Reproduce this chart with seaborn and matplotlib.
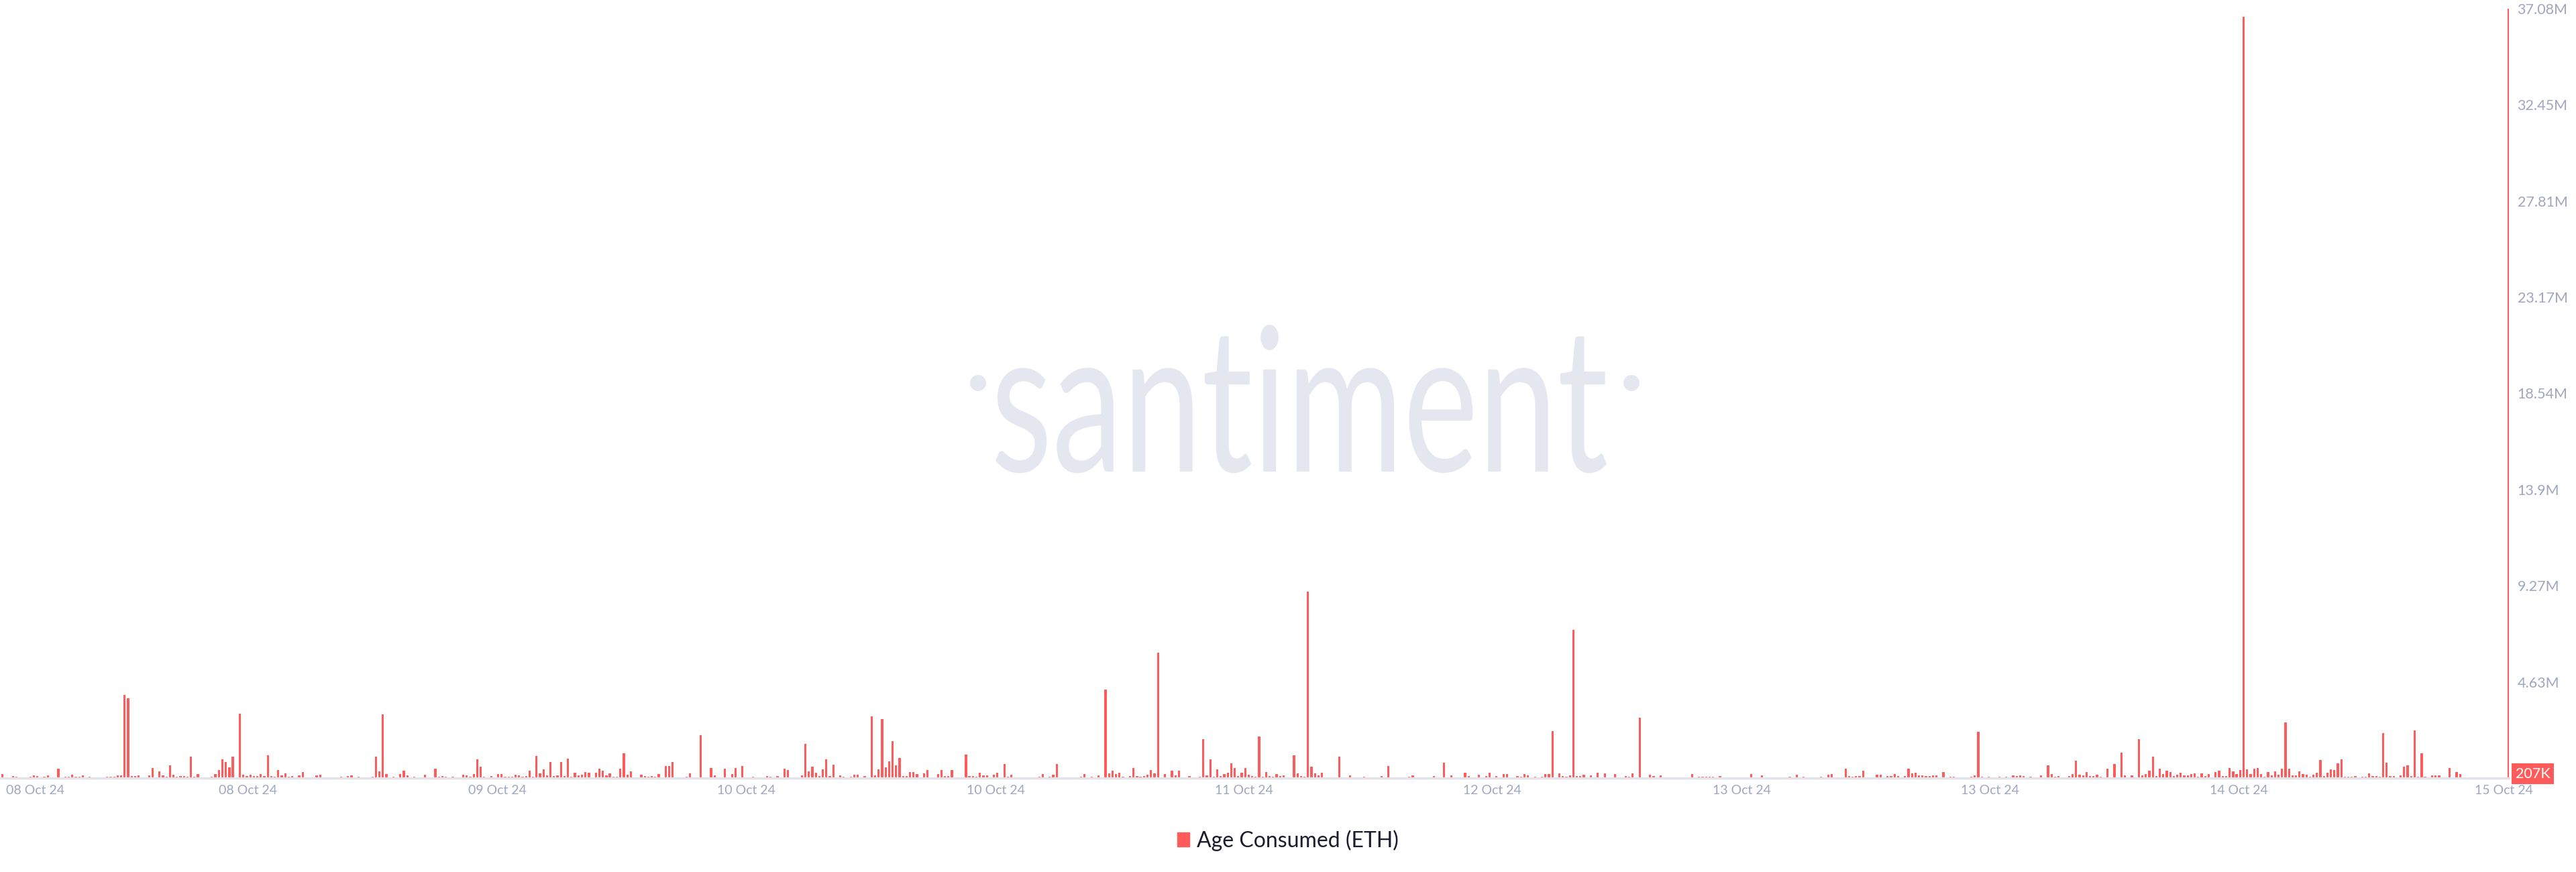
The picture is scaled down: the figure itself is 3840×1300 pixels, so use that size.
import numpy as np
import pandas as pd
import matplotlib
matplotlib.use("Agg")
from matplotlib import pyplot as plt
from matplotlib.patches import Patch, PathPatch, Circle
from matplotlib.textpath import TextPath
from matplotlib.font_manager import FontProperties
from matplotlib.transforms import Affine2D, IdentityTransform
import seaborn as sns

# Age Consumed (ETH), millions, one value per interval
age_oct08 = [
    0.18, 0, 0, 0.10, 0.05, 0.03, 0, 0.03, 0.05, 0.13, 0.10, 0, 0.05, 0.13, 0.03, 0, 0.44, 0, 0.05, 0.05,
    0.15, 0.05, 0.07, 0.13, 0.02, 0.05, 0.02, 0, 0.04, 0.04, 0.05, 0.05, 0.07, 0.13, 0.13, 4.01, 3.85, 0.09, 0.09, 0.13,
    0.03, 0.03, 0.12, 0.48, 0.04, 0.31, 0.13, 0.07, 0.61, 0.15, 0.07, 0.09, 0.10, 0.07, 1.03, 0.05, 0.19, 0.04, 0.04, 0.04,
    0.05, 0.18, 0.39, 0.89, 0.76, 0.51, 1.05, 0.03, 3.10, 0.15, 0.10, 0.16, 0.09, 0.09, 0.19, 0.09, 1.10, 0.11, 0.07, 0.39,
    0.13, 0.22, 0.05, 0.11, 0.03, 0.13, 0.29, 0.02, 0.01, 0, 0.12, 0.17, 0.01, 0.01, 0.01, 0.02, 0.02, 0.05, 0, 0.11,
    0.14, 0.04, 0.05, 0.03, 0.03, 0.03, 0.05, 1.03, 0.33, 3.06, 0.18, 0, 0.06, 0, 0.19, 0.36, 0.14, 0, 0.06, 0.02,
    0, 0.17, 0, 0, 0.45, 0.05, 0.11, 0.07, 0.03, 0.06, 0.03, 0, 0.17, 0.12, 0.06, 0.21, 0.90, 0.56, 0.07, 0.03,
    0.10, 0.03, 0.18, 0.18, 0.06, 0.05, 0.05, 0.15, 0.13, 0.05, 0.09, 0.34, 0.05, 1.06, 0.24, 0.42, 0.14, 0.77, 0.10, 0.12,
    0.77, 0.10, 0.93, 0.07, 0.25, 0.14, 0.15, 0.29, 0.27, 0.03, 0.27, 0.44, 0.36, 0.12, 0.24, 0.07, 0.07, 0.44, 1.21, 0.16,
    0.33, 0.02, 0.02, 0.15, 0.10, 0.07, 0.11, 0.07, 0.19, 0, 0.59, 0.57, 0.78, 0.03, 0.03, 0, 0.07, 0.22, 0.03, 0,
    2.06, 0.03, 0.03, 0.47, 0.13, 0.03, 0, 0.45, 0.03, 0.19, 0.47, 0.03, 0.57, 0.01, 0, 0.05, 0, 0.03, 0, 0.11,
    0.07, 0.03, 0.10, 0, 0.46, 0.39, 0.03, 0.03, 0.03, 0.14, 1.64, 0.33, 0.54, 0.27, 0.11, 0.42, 0.91, 0.09, 0.65, 0.03,
]
age_oct10 = [
    0.12, 0.05, 0, 0.05, 0.17, 0.16, 0.03, 0.10, 0.03, 2.99, 0.13, 0.42, 2.83, 0.52, 0.81, 1.79, 0.62, 0.98, 0.11, 0.11,
    0.28, 0.29, 0.19, 0.03, 0.23, 0.39, 0.03, 0.03, 0.19, 0.39, 0.11, 0.11, 0.39, 0.03, 0.03, 0.03, 1.13, 0.10, 0.10, 0.05,
    0.26, 0.14, 0.13, 0, 0.15, 0.27, 0.03, 0.68, 0.05, 0.16, 0.04, 0.01, 0, 0.04, 0.03, 0.03, 0, 0.05, 0.19, 0,
    0.07, 0.17, 0.68, 0, 0, 0, 0.04, 0.01, 0, 0.05, 0.19, 0, 0.06, 0.03, 0.12, 0.03, 4.27, 0.23, 0.34, 0.21,
    0.27, 0.05, 0.03, 0.10, 0.47, 0.10, 0.05, 0.11, 0.17, 0.39, 0.23, 6.05, 0.03, 0.21, 0.03, 0.36, 0.13, 0.36, 0.03, 0.03,
    0.10, 0.03, 0.03, 0.06, 1.87, 0.14, 0.90, 0.07, 0.43, 0.10, 0.19, 0.26, 0.71, 0.47, 0.09, 0.26, 0.48, 0.16, 0.10, 0.05,
    2.02, 0.05, 0.28, 0.10, 0.05, 0.19, 0.11, 0.12, 0.01, 0.03, 1.09, 0.24, 0.10, 0.05, 9.00, 0.55, 0.24, 0.13, 0.26, 0.01,
    0.02, 0, 0.03, 1.03, 0, 0.03, 0.12, 0.03, 0, 0.03, 0.06, 0, 0, 0.03, 0, 0.10, 0.03, 0.58, 0.03, 0,
    0.02, 0.02, 0.02, 0.07, 0.12, 0.03, 0.03, 0.03, 0, 0.03, 0.10, 0.03, 0.03, 0.74, 0.02, 0.12, 0, 0.01, 0, 0.26,
    0.11, 0.03, 0, 0.16, 0.03, 0.10, 0.26, 0, 0.10, 0.03, 0.18, 0.18, 0.03, 0.03, 0.10, 0.07, 0.18, 0.12, 0.03, 0.07,
    0.03, 0.05, 0.21, 0.20, 2.26, 0.03, 0.23, 0.10, 0.05, 0.12, 7.15, 0.10, 0.10, 0.15, 0.03, 0.12, 0.03, 0.27, 0.03, 0.23,
    0.03, 0.03, 0.18, 0.01, 0, 0.11, 0.07, 0.23, 0.03, 2.90, 0.03, 0.03, 0.17, 0.10, 0, 0.13, 0, 0.03, 0, 0, 0,
    0, 0,
]
age_oct13 = [
    0.03, 0.21, 0, 0.05, 0.05, 0.05, 0.05, 0.05, 0.03, 0.10, 0.03, 0, 0, 0, 0.01, 0.02, 0.02, 0, 0.20, 0,
    0.03, 0.14, 0, 0.02, 0.02, 0, 0.01, 0, 0.03, 0.05, 0.03, 0.17, 0, 0.05, 0.03, 0.02, 0.03, 0.03, 0.05, 0.03,
    0.17, 0.19, 0, 0.02, 0.02, 0.46, 0.09, 0.08, 0.09, 0.10, 0.34, 0.03, 0.03, 0.03, 0.17, 0.17, 0.03, 0.10, 0.10, 0.20,
    0.10, 0.03, 0.10, 0.45, 0.23, 0.27, 0.12, 0.12, 0.10, 0.10, 0.13, 0.13, 0.03, 0.29, 0, 0.05, 0.05, 0.03, 0.03, 0.03,
    0.03, 0.05, 0.13, 2.22, 0.05, 0.03, 0.05, 0.03, 0.03, 0.05, 0.03, 0.05, 0, 0.13, 0.10, 0.12, 0.10, 0.03, 0.05, 0.03,
    0, 0.12, 0, 0.61, 0.19, 0.08, 0.10, 0.02, 0, 0.10, 0.19, 0.84, 0.15, 0.12, 0.28, 0.10, 0.10, 0.15, 0.05, 0.03,
    0.44, 0.03, 0.69, 0.03, 1.22, 0.13, 0.03, 0.13, 0.03, 1.88, 0.13, 0.19, 0.36, 1.03, 0.10, 0.45, 0.19, 0.36, 0.29, 0.10,
    0.16, 0.27, 0.13, 0.13, 0.20, 0.23, 0.05, 0.24, 0.10, 0.19, 0.03, 0.30, 0.34, 0.11, 0.11, 0.49, 0.33, 0.21, 0.40, 36.7,
    0.41, 0.21, 0.45, 0.49, 0.21, 0.08, 0.29, 0.13, 0.32, 0.17, 0.45, 2.67, 0.45, 0.12, 0.12, 0.33, 0.20, 0.15, 0.05, 0.17,
    0.27, 0.87, 0.10, 0.26, 0.42, 0.40, 0.70, 0.89, 0.08, 0.08, 0.05, 0.10, 0.03, 0.05, 0.05, 0.23, 0.10, 0.10, 0.08, 2.17,
    0.74, 0.10, 0.10, 0.03, 0.12, 0.55, 0.61, 0.10, 2.31, 0.08, 1.21, 0.05, 0.03, 0.13, 0.13, 0.13, 0.03, 0.03, 0.48, 0.03,
    0.29, 0.18, 0, 0, 0, 0, 0, 0, 0, 0, 0, 0, 0, 0, 0, 37.08,
]

tick_slots = [9.3, 70.4, 141.7, 213.1, 284.6, 355.6, 426.7, 498.3, 569.4, 640.6, 716.5]
tick_labels = ["08 Oct 24", "08 Oct 24", "09 Oct 24", "10 Oct 24", "10 Oct 24", "11 Oct 24",
               "12 Oct 24", "13 Oct 24", "13 Oct 24", "14 Oct 24", "15 Oct 24"]
ytick_values = [4.63, 9.27, 13.9, 18.54, 23.17, 27.81, 32.45, 37.08]
ytick_labels = ["4.63M", "9.27M", "13.9M", "18.54M", "23.17M", "27.81M", "32.45M", "37.08M"]
latest_value = 0.207
latest_label = "207K"

age = np.array(age_oct08 + age_oct10 + age_oct13)
df = pd.DataFrame({"slot": np.arange(len(age)), "age_consumed": age})

bar_color = "#ff5b5b"
axis_text = "#a0a6bd"
mark_color = "#e4e7f0"

sns.set_theme(style="white")
plt.rcParams["font.family"] = ["Lato", "DejaVu Sans"]

fig = plt.figure(figsize=(38.4, 13), dpi=100)
fig.patch.set_facecolor("white")

# watermark: narrow, tall lettering, drawn in pixel units
tp = TextPath((0, 0), "santiment", size=100, prop=FontProperties(family="Lato"))
ext = tp.get_extents()
sx = 911 / ext.width
sy = 152 / 50.6
wm = Affine2D().translate(-ext.x0, 0).scale(sx, sy).translate(1484, 597)
fig.add_artist(PathPatch(tp, transform=wm, fc=mark_color, ec="none", zorder=-1))
for cx in (1458, 2432):
    fig.add_artist(Circle((cx, 729), 12, transform=IdentityTransform(),
                          fc=mark_color, ec="none", zorder=-1))

ax = fig.add_axes([0, 140 / 1300, 3740 / 3840, 1147 / 1300])
ax.patch.set_visible(False)

sns.barplot(data=df, x="slot", y="age_consumed", native_scale=True, color=bar_color,
            saturation=1, width=0.62, errorbar=None, linewidth=0, ax=ax)

ax.set_xlim(-0.7, 718)
ax.set_ylim(0, 37.08)
ax.set_xlabel("")
ax.set_ylabel("")

for side in ["top", "left", "right"]:
    ax.spines[side].set_visible(False)
ax.spines["bottom"].set_color("#e3e4ea")
ax.spines["bottom"].set_linewidth(2.5)

ax.set_xticks(tick_slots, tick_labels)
ax.tick_params(axis="x", length=0, pad=7, labelsize=14, labelcolor=axis_text)

ax.yaxis.tick_right()
ax.set_yticks(ytick_values, ytick_labels)
ax.tick_params(axis="y", length=0, pad=9, labelsize=15.5, labelcolor=axis_text)

ax.annotate(latest_label, xy=(1, latest_value), xycoords=("axes fraction", "data"),
            xytext=(7, 0), textcoords="offset points", ha="left", va="center",
            fontsize=15.5, color="white", annotation_clip=False,
            bbox=dict(boxstyle="square,pad=0.25", fc=bar_color, ec="none"))

fig.legend(handles=[Patch(color=bar_color, label="Age Consumed (ETH)")],
           loc="center", bbox_to_anchor=(0.5, 47 / 1300), frameon=False,
           fontsize=23, handlelength=0.56, handleheight=0.62, handletextpad=0.35,
           labelcolor="#1b1d2e")

fig.savefig("out.png", dpi=100, facecolor="white")
